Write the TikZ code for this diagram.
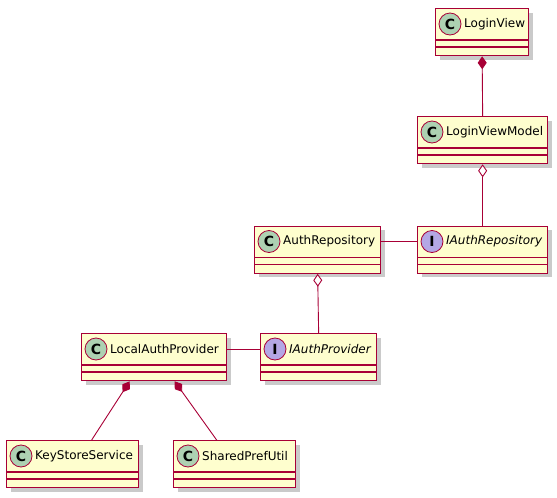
\documentclass[tikz,border=0pt]{standalone}
\usepackage{fontspec}
\setmainfont{DejaVu Sans}
\usepackage{tikz}
\usetikzlibrary{arrows.meta,calc,shadows}

\definecolor{umlred}{HTML}{A80036}
\definecolor{umlfill}{HTML}{FEFECE}
\definecolor{classgreen}{HTML}{ADD1B2}
\definecolor{ifacepurple}{HTML}{B4A7E5}

\tikzset{
  umlbox/.style={draw=umlred,fill=umlfill,line width=1.3pt,inner sep=0pt,
    drop shadow={shadow xshift=4pt,shadow yshift=-4pt,opacity=.35,fill=black!60}},
  sep/.style={draw=umlred,line width=1.3pt},
  spot/.style={circle,draw=umlred,line width=.8pt,minimum size=22pt,inner sep=0pt,
    font=\fontsize{14}{14}\selectfont\bfseries},
  link/.style={draw=umlred,line width=.9pt},
  comp/.style={{Diamond[fill=umlred,length=13pt,width=9pt]}-},
  aggr/.style={{Diamond[fill=white,length=13pt,width=9pt]}-}
}

% name, left, top, width, letter, spot colour, label
\newcommand\umlclass[7]{%
  \node[umlbox,anchor=north west,minimum width=#4pt,minimum height=47pt] (#1) at (#2,#3) {};
  \draw[sep] ([yshift=-32pt]#1.north west) -- ([yshift=-32pt]#1.north east);
  \draw[sep] ([yshift=-39pt]#1.north west) -- ([yshift=-39pt]#1.north east);
  \node[spot,fill=#6] (#1-spot) at ([xshift=15pt,yshift=-16pt]#1.north west) {#5};
  \node[anchor=west,inner sep=0pt,font=\fontsize{12}{12}\selectfont] (#1-name) at ([xshift=29pt,yshift=-16pt]#1.north west) {#7};
}

\begin{document}
\begin{tikzpicture}[x=1pt,y=-1pt]
\useasboundingbox (0,0) rectangle (557,498);

\umlclass{loginview}{435}{8}{93}{C}{classgreen}{LoginView}
\umlclass{loginviewmodel}{417}{116}{130}{C}{classgreen}{LoginViewModel}
\umlclass{iauthrepo}{417}{225.5}{130}{I}{ifacepurple}{\itshape IAuthRepository}
\umlclass{authrepo}{254}{225.5}{126}{C}{classgreen}{AuthRepository}
\umlclass{localauth}{81}{333}{145}{C}{classgreen}{LocalAuthProvider}
\umlclass{iauthprov}{260}{333}{116}{I}{ifacepurple}{\itshape IAuthProvider}
\umlclass{keystore}{6}{440}{132}{C}{classgreen}{KeyStoreService}
\umlclass{sharedpref}{173}{440}{122}{C}{classgreen}{SharedPrefUtil}

\draw[link,comp] (loginview.south) -- (loginviewmodel.north);
\draw[link,aggr] (loginviewmodel.south) -- (iauthrepo.north);
\draw[link] ([yshift=-16pt]authrepo.north east) -- ([yshift=-16pt]iauthrepo.north west);
\draw[link,aggr] (authrepo.south) -- (iauthprov.north);
\draw[link] ([yshift=-16pt]localauth.north east) -- ([yshift=-16pt]iauthprov.north west);
\draw[link,comp] ($(localauth.south)+(-24.5,0)$) -- ($(keystore.north)+(19,0)$);
\draw[link,comp] ($(localauth.south)+(20.5,0)$) -- ($(sharedpref.north)+(-18,0)$);
\end{tikzpicture}
\end{document}
